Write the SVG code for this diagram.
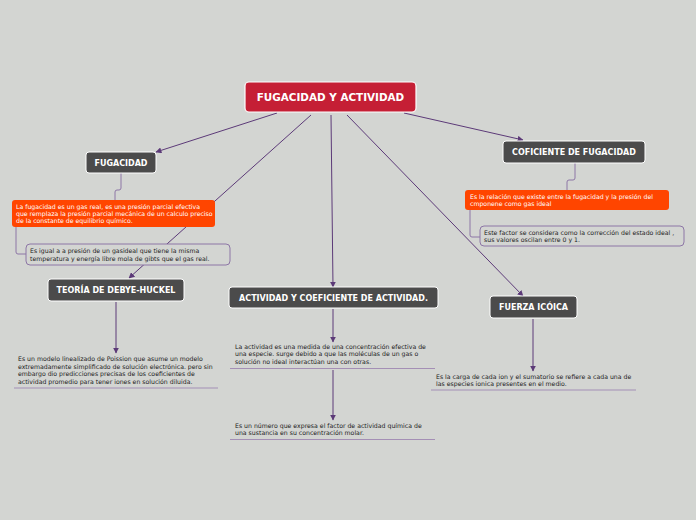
<svg xmlns="http://www.w3.org/2000/svg" width="696" height="520" viewBox="0 0 696 520">
<defs>
<marker id="ah" viewBox="0 0 10 10" refX="9" refY="5" markerWidth="6" markerHeight="6" markerUnits="userSpaceOnUse" orient="auto"><path d="M0,0 L10,5 L0,10 z" fill="#5c3a78"/></marker>
<style>
.bg{fill:#d3d5d2}
.dark{fill:#4b4b4b;stroke:#ffffff;stroke-width:1}
.root{fill:#c51f35;stroke:#ffffff;stroke-width:1.2}
.orange{fill:#ff4500;stroke:none}
.sub{fill:#d3d5d2;stroke:#8d76a6;stroke-width:1}
.ht{font-family:"DejaVu Sans",Verdana,sans-serif;font-weight:bold;fill:#ffffff;text-anchor:middle}
.t{font-family:"DejaVu Sans",Verdana,sans-serif;font-size:6.2px;fill:#222222}
.tw{font-family:"DejaVu Sans",Verdana,sans-serif;font-size:6.2px;fill:#ffffff}
.c{fill:none;stroke:#5c3a78;stroke-width:1}
.cl{fill:none;stroke:#8d76a6;stroke-width:1}
.ul{stroke:#a48fb5;stroke-width:1.2}
</style>
</defs>
<rect class="bg" x="0" y="0" width="696" height="520"/>
<g id="connectors">
<line class="c" x1="277" y1="113" x2="156" y2="152" marker-end="url(#ah)"/>
<line class="c" x1="311" y1="115" x2="129" y2="278" marker-end="url(#ah)"/>
<line class="c" x1="331" y1="115" x2="333" y2="287" marker-end="url(#ah)"/>
<line class="c" x1="347" y1="115" x2="523" y2="296" marker-end="url(#ah)"/>
<line class="c" x1="404" y1="113" x2="523" y2="140" marker-end="url(#ah)"/>
<path class="cl" d="M121,173 V188 Q121,190 119,190 H117 Q115,190 115,192 V200"/>
<path class="cl" d="M16,227 V252 Q16,254 18,254 H26"/>
<path class="cl" d="M575,163 V178 Q575,180 573,180 H569 Q567,180 567,182 V190"/>
<path class="cl" d="M470,210 V235 Q470,237 472,237 H480"/>
<line class="c" x1="116" y1="302" x2="116" y2="353" marker-end="url(#ah)"/>
<line class="c" x1="333" y1="309" x2="333" y2="342" marker-end="url(#ah)"/>
<line class="c" x1="333" y1="370" x2="333" y2="420" marker-end="url(#ah)"/>
<line class="c" x1="533" y1="319" x2="533" y2="371" marker-end="url(#ah)"/>
</g>
<g id="root">
<rect class="root" x="245" y="82" width="171" height="30" rx="4"/>
<text class="ht" x="330.5" y="100.5" font-size="10.4">FUGACIDAD Y ACTIVIDAD</text>
</g>
<g id="fugacidad">
<rect class="dark" x="86" y="152" width="70" height="21" rx="3"/>
<text class="ht" x="121" y="165.5" font-size="8">FUGACIDAD</text>
</g>
<g id="fugacidad-def">
<rect class="orange" x="12" y="200" width="203" height="27" rx="3"/>
<text class="tw" x="16" y="208.5">La fugacidad es un gas real, es una presión parcial efectiva</text>
<text class="tw" x="16" y="215.5">que remplaza la presión parcial mecánica de un calculo preciso</text>
<text class="tw" x="16" y="222.5">de la constante de equilibrio químico.</text>
</g>
<g id="fugacidad-igual">
<rect class="sub" x="26" y="244" width="204" height="21" rx="4"/>
<text class="t" x="30" y="252.5">Es igual a a presión de un gasideal que tiene  la misma</text>
<text class="t" x="30" y="260.5">temperatura y energía libre mola de gibts que el gas real.</text>
</g>
<g id="coficiente">
<rect class="dark" x="503" y="141" width="142" height="22" rx="3"/>
<text class="ht" x="574" y="154.5" font-size="8">COFICIENTE DE FUGACIDAD</text>
</g>
<g id="coficiente-def">
<rect class="orange" x="465" y="190" width="204" height="20" rx="3"/>
<text class="tw" x="470" y="198.5">Es la relación que existe entre la fugacidad y la presión del</text>
<text class="tw" x="470" y="205.5">cmponene como gas ideal</text>
</g>
<g id="coficiente-factor">
<rect class="sub" x="480" y="226" width="204" height="20" rx="4"/>
<text class="t" x="484" y="234.5">Este factor se considera como la corrección del estado ideal ,</text>
<text class="t" x="484" y="242">sus valores oscilan entre 0 y 1.</text>
</g>
<g id="debye">
<rect class="dark" x="48" y="279" width="136" height="22" rx="3"/>
<text class="ht" x="116" y="292.7" font-size="8">TEORÍA DE DEBYE-HUCKEL</text>
</g>
<g id="debye-def">
<text class="t" x="18" y="361">Es un modelo linealizado de Poission que asume un modelo</text>
<text class="t" x="18" y="368.5">extremadamente simplificado de solución electrónica. pero sin</text>
<text class="t" x="18" y="376">embargo dio predicciones precisas de los coeficientes de</text>
<text class="t" x="18" y="383.5">actividad promedio para tener iones en solución diluida.</text>
<line class="ul" x1="14" y1="388" x2="218" y2="388"/>
</g>
<g id="actividad">
<rect class="dark" x="229" y="287" width="209" height="21" rx="3"/>
<text class="ht" x="333.5" y="300.5" font-size="8">ACTIVIDAD Y COEFICIENTE DE ACTIVIDAD.</text>
</g>
<g id="actividad-def">
<text class="t" x="235" y="348.5">La actividad es una medida de una concentración efectiva de</text>
<text class="t" x="235" y="356">una especie. surge debido a que las moléculas de un gas o</text>
<text class="t" x="235" y="363.5">solución no ideal interactúan una con otras.</text>
<line class="ul" x1="230" y1="368.5" x2="435" y2="368.5"/>
</g>
<g id="coeficiente-def">
<text class="t" x="235" y="427.5">Es un número que expresa el factor de actividad química de</text>
<text class="t" x="235" y="435">una sustancia en su concentración molar.</text>
<line class="ul" x1="230" y1="439.5" x2="435" y2="439.5"/>
</g>
<g id="fuerza">
<rect class="dark" x="490" y="296" width="87" height="22" rx="3"/>
<text class="ht" x="533.5" y="309.7" font-size="8">FUERZA ICÓICA</text>
</g>
<g id="fuerza-def">
<text class="t" x="436" y="378.5">Es la carga de cada ion y el sumatorio se refiere a cada una de</text>
<text class="t" x="436" y="386">las especies ionica presentes en el medio.</text>
<line class="ul" x1="431" y1="390" x2="636" y2="390"/>
</g>
</svg>
